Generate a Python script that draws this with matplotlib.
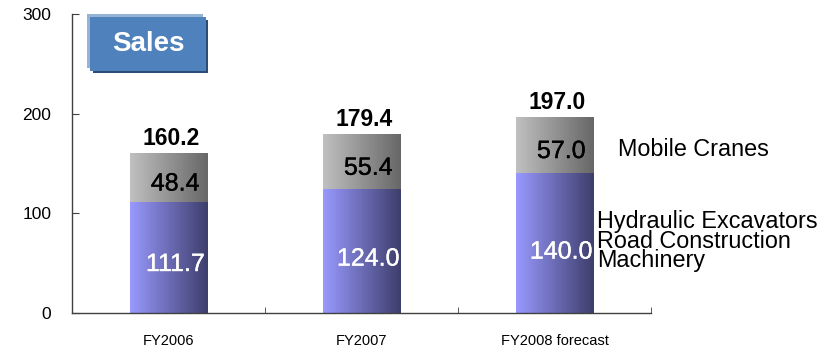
import numpy as np
import matplotlib
matplotlib.use("Agg")
import matplotlib.pyplot as plt
import matplotlib.patheffects as pe
from matplotlib.colors import LinearSegmentedColormap
from matplotlib.patches import Rectangle

plt.rcParams['font.family'] = ['Liberation Sans', 'DejaVu Sans']

years = ["FY2006", "FY2007", "FY2008 forecast"]
excavators = [111.7, 124.0, 140.0]
cranes = [48.4, 55.4, 57.0]
totals = [160.2, 179.4, 197.0]
seg_names = ["Hydraulic Excavators\nRoad Construction\nMachinery", "Mobile Cranes"]

W, H = 822, 351
fig = plt.figure(figsize=(W / 100, H / 100), dpi=100)
ax = fig.add_axes([72 / W, 1 - 313 / H, (651 - 72) / W, (313 - 14) / H])

blue_cm = LinearSegmentedColormap.from_list("blu", ["#9999FF", "#3E3E6C"])
gray_cm = LinearSegmentedColormap.from_list("gry", ["#C0C0C0", "#676767"])
grad = np.linspace(0, 1, 256).reshape(1, -1)

x = np.arange(len(years))
width = 0.4

def gradient_bars(bottoms, heights, cmap):
    bars = ax.bar(x, heights, width, bottom=bottoms, color="none", linewidth=0)
    for b in bars:
        x0, y0 = b.get_x(), b.get_y()
        img = ax.imshow(grad, cmap=cmap, aspect="auto", interpolation="bilinear",
                        extent=[x0, x0 + b.get_width(), y0, y0 + b.get_height()],
                        zorder=2)
        img.set_clip_path(b)
    return bars

gradient_bars(np.zeros(3), excavators, blue_cm)
gradient_bars(excavators, cranes, gray_cm)

def heavy(color):
    return [pe.withStroke(linewidth=0.25, foreground=color)]

for i in range(len(years)):
    ax.text(x[i] + 0.035, excavators[i] * 0.44, "%.1f" % excavators[i],
            ha="center", va="center", color="white", fontsize=18,
            path_effects=heavy("white"), zorder=3)
    ax.text(x[i] + 0.035, excavators[i] + cranes[i] / 2 - 6, "%.1f" % cranes[i],
            ha="center", va="center", color="black", fontsize=18,
            path_effects=heavy("black"), zorder=3)
    ax.text(x[i] + 0.015, totals[i] + 3, "%.1f" % totals[i], ha="center",
            va="bottom", color="black", fontsize=16.5, fontweight="bold", zorder=3)

# series names next to the last bar
ax.text(2.33, excavators[2] + cranes[2] / 2 - 4, seg_names[1], ha="left",
        va="center", fontsize=16.8, clip_on=False)
ax.text(2.22, 72, seg_names[0], ha="left", va="center", fontsize=16.8,
        linespacing=0.8, clip_on=False)

ax.set_xlim(-0.5, 2.5)
ax.set_ylim(0, 300)
ax.set_yticks([0, 100, 200, 300])
ax.set_xticks(x)
ax.set_xticklabels(years)
ax.set_xticks([0.5, 1.5, 2.5], minor=True)
ax.tick_params(axis="x", which="major", length=0, pad=15, labelsize=10.5)
ax.tick_params(axis="x", which="minor", direction="in", length=4, color="#404040")
ax.tick_params(axis="y", direction="in", length=5, labelsize=12.5, pad=15,
               color="#404040")
for s in ["top", "right"]:
    ax.spines[s].set_visible(False)
for s in ["left", "bottom"]:
    ax.spines[s].set_color("#404040")
    ax.spines[s].set_linewidth(1.0)

# "Sales" title box with light and dark offsets
def fig_rect(x0, y0, x1, y1, color, z):
    fig.patches.append(Rectangle((x0 / W, 1 - y1 / H), (x1 - x0) / W, (y1 - y0) / H,
                                 transform=fig.transFigure, facecolor=color,
                                 edgecolor="none", zorder=z))

fig_rect(93, 20, 208, 73, "#2C4D75", 5)
fig_rect(87, 14, 203, 68, "#95B3D7", 6)
fig_rect(90, 17, 206, 71, "#4F81BD", 7)
fig.text(148 / W, 1 - 44 / H, "Sales", color="white", fontsize=20,
         fontweight="bold", ha="center", va="center", zorder=8)

fig.savefig("out.png", dpi=100)
